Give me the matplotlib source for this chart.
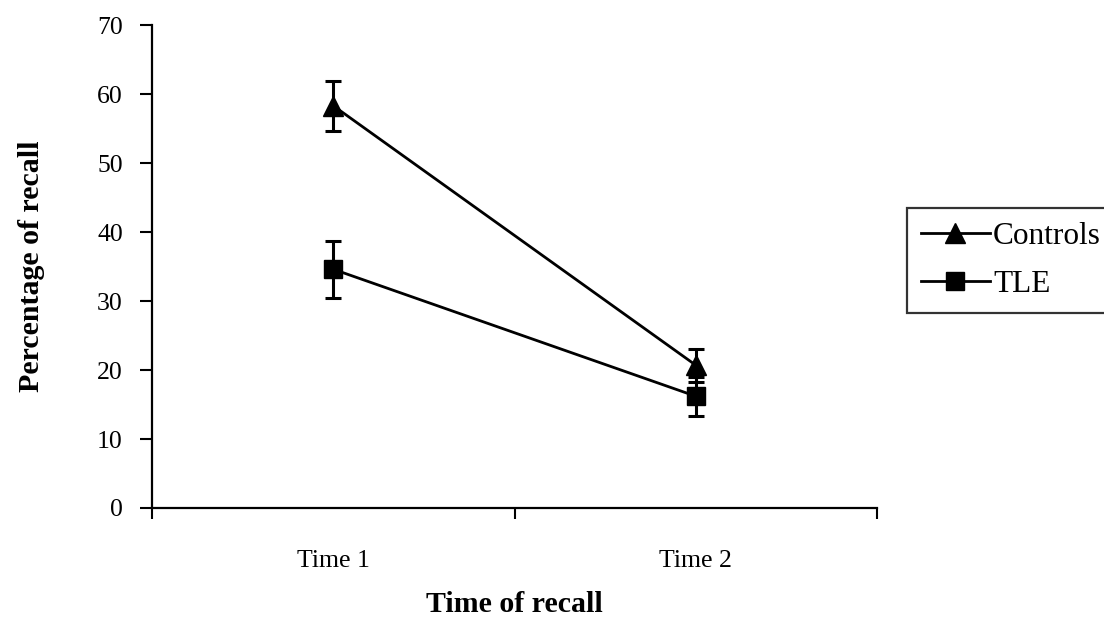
import matplotlib
matplotlib.use("Agg")
import matplotlib.pyplot as plt
from matplotlib.lines import Line2D

# Recall data (percentage) with error bars
times = ["Time 1", "Time 2"]
controls_mean = [58.3, 20.7]
controls_err = [3.6, 2.4]
tle_mean = [34.6, 16.2]
tle_err = [4.1, 2.8]

plt.rcParams["font.family"] = ["Liberation Serif", "DejaVu Serif"]

fig = plt.figure(figsize=(11.04, 6.24), dpi=100)
ax = fig.add_axes([0.1377, 0.1859, 0.6567, 0.774])

x = [i + 0.5 for i in range(len(times))]

ax.errorbar(x, controls_mean, yerr=controls_err, color="black", lw=2,
            marker="^", markersize=15, capsize=6, capthick=2.2, elinewidth=2.2,
            label="Controls", zorder=3)
ax.errorbar(x, tle_mean, yerr=tle_err, color="black", lw=2,
            marker="s", markersize=13, capsize=6, capthick=2.2, elinewidth=2.2,
            label="TLE", zorder=3)

ax.set_xlim(0, len(times))
ax.set_ylim(0, 70)
ax.set_yticks(range(0, 71, 10))
ax.set_xticks(range(0, len(times) + 1))
ax.set_xticklabels([])
ax.set_xticks(x, minor=True)
ax.set_xticklabels(times, minor=True)
ax.tick_params(axis="x", which="minor", length=0, pad=30, labelsize=18.5)
ax.tick_params(axis="x", which="major", length=8, width=1.5, direction="out")
ax.tick_params(axis="y", length=9, width=1.5, direction="out", labelsize=18.5, pad=12)

for side in ["top", "right"]:
    ax.spines[side].set_visible(False)
for side in ["left", "bottom"]:
    ax.spines[side].set_linewidth(1.6)

ax.set_xlabel("Time of recall", fontsize=21.5, fontweight="bold")
ax.set_ylabel("Percentage of recall", fontsize=21.5, fontweight="bold")
ax.xaxis.set_label_coords(0.5, -0.172)
ax.yaxis.set_label_coords(-0.148, 0.5)

handles = [
    Line2D([], [], color="black", lw=2, marker="^", markersize=15),
    Line2D([], [], color="black", lw=2, marker="s", markersize=13),
]
leg = fig.legend(handles, ["Controls", "TLE"], loc="upper left",
                 bbox_to_anchor=(0.8216, 0.6667), frameon=True, fancybox=False,
                 edgecolor="black", fontsize=22.5, handlelength=2.2,
                 handletextpad=0.1, borderpad=0.45, labelspacing=0.6,
                 borderaxespad=0)
leg.get_frame().set_linewidth(1.6)

fig.savefig("out.png", dpi=100)
